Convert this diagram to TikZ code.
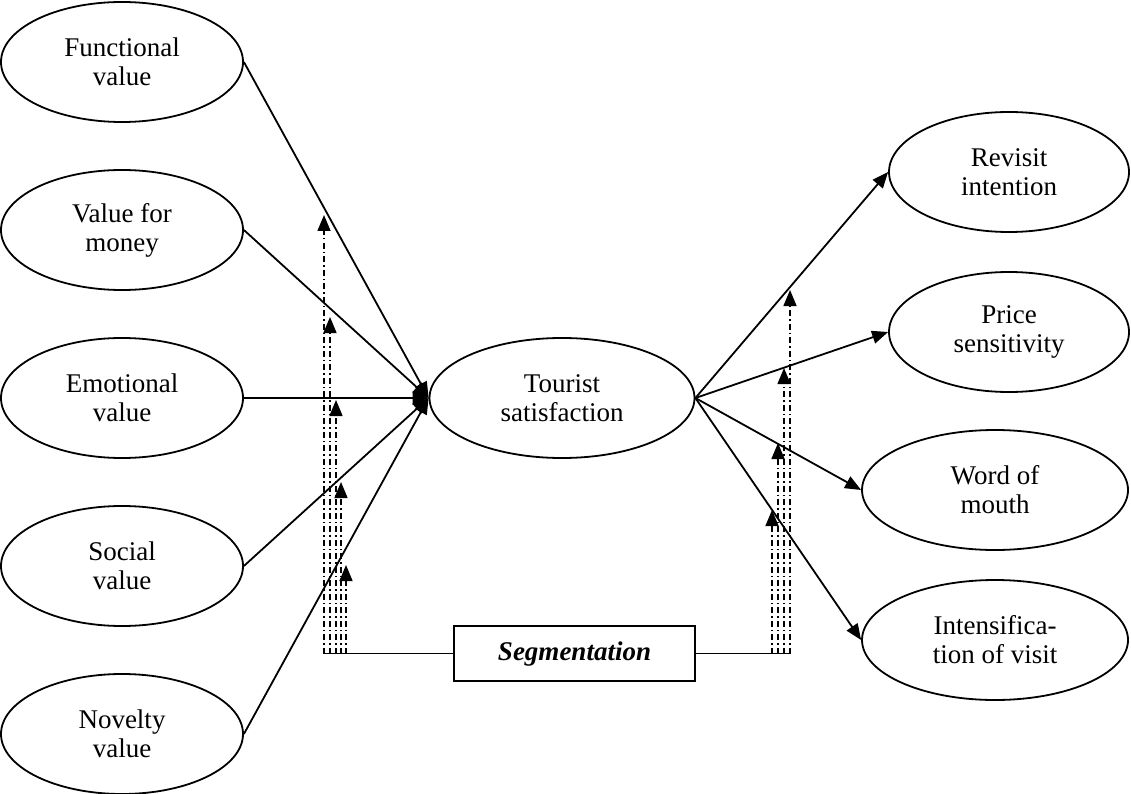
\documentclass[tikz,border=0pt]{standalone}
\usepackage{fontspec}
\setmainfont{Liberation Serif}
\usetikzlibrary{shapes.geometric,arrows.meta}
\begin{document}
\begin{tikzpicture}[x=1pt,y=-1pt,
  ell/.style={ellipse,draw,line width=1.8pt,minimum width=242pt,minimum height=120pt,inner sep=0pt,align=center,font=\fontsize{27}{29}\selectfont},
  segbox/.style={draw,line width=1.8pt,minimum width=241pt,minimum height=55pt,inner sep=0pt,font=\fontsize{27}{30}\selectfont\bfseries\itshape},
  arr/.style={line width=1.8pt,-{Triangle[length=16pt,width=13pt]}},
  modline/.style={line width=1.5pt,dash pattern=on 6pt off 3pt on 1.5pt off 3pt},
  modarr/.style={modline,-{Triangle[length=16pt,width=13pt]}},
  hline/.style={line width=1.8pt}
]
\useasboundingbox (0,0) rectangle (1131,794);

% predictors
\node[ell] (fv) at (122,62) {Functional\\value};
\node[ell] (vm) at (122,230) {Value for\\money};
\node[ell] (ev) at (122,398) {Emotional\\value};
\node[ell] (sv) at (122,566) {Social\\value};
\node[ell] (nv) at (122,734) {Novelty\\value};

% central
\node[ell,minimum width=265pt] (ts) at (562,398) {Tourist\\satisfaction};

% outcomes
\node[ell,minimum width=240pt] (ri) at (1009,172) {Revisit\\intention};
\node[ell,minimum width=240pt] (ps) at (1009,332) {Price\\sensitivity};
\node[ell,minimum width=266pt] (wm) at (995,490) {Word of\\mouth};
\node[ell,minimum width=266pt] (iv) at (995,640) {Intensifica-\\tion of visit};

% moderator
\node[segbox] (seg) at (574.5,653.5) {Segmentation};

% main paths
\draw[arr] (fv.east) -- (ts.west);
\draw[arr] (vm.east) -- (ts.west);
\draw[arr] (ev.east) -- (ts.west);
\draw[arr] (sv.east) -- (ts.west);
\draw[arr] (nv.east) -- (ts.west);

\draw[arr] (ts.east) -- (ri.west);
\draw[arr] (ts.east) -- (ps.west);
\draw[arr] (ts.east) -- (wm.west);
\draw[arr] (ts.east) -- (iv.west);

% moderation targets (left)
\coordinate (l1) at (324,215);
\coordinate (l2) at (330,317);
\coordinate (l3) at (336,400);
\coordinate (l4) at (341,482);
\coordinate (l5) at (346,565);
\coordinate (lb) at (324,653.5);
% moderation targets (right)
\coordinate (r1) at (790,290);
\coordinate (r2) at (784,368);
\coordinate (r3) at (778,443);
\coordinate (r4) at (772,510);
\coordinate (rb) at (790,653.5);

\draw[hline] (seg.west) -- (lb);
\draw[hline] (seg.east) -- (rb);

\foreach \c in {l1,l2,l3,l4,l5}{
  \draw[modarr] (\c |- seg.west) -- (\c);
}
\foreach \c in {r1,r2,r3,r4}{
  \draw[modarr] (\c |- seg.east) -- (\c);
}
\end{tikzpicture}
\end{document}
